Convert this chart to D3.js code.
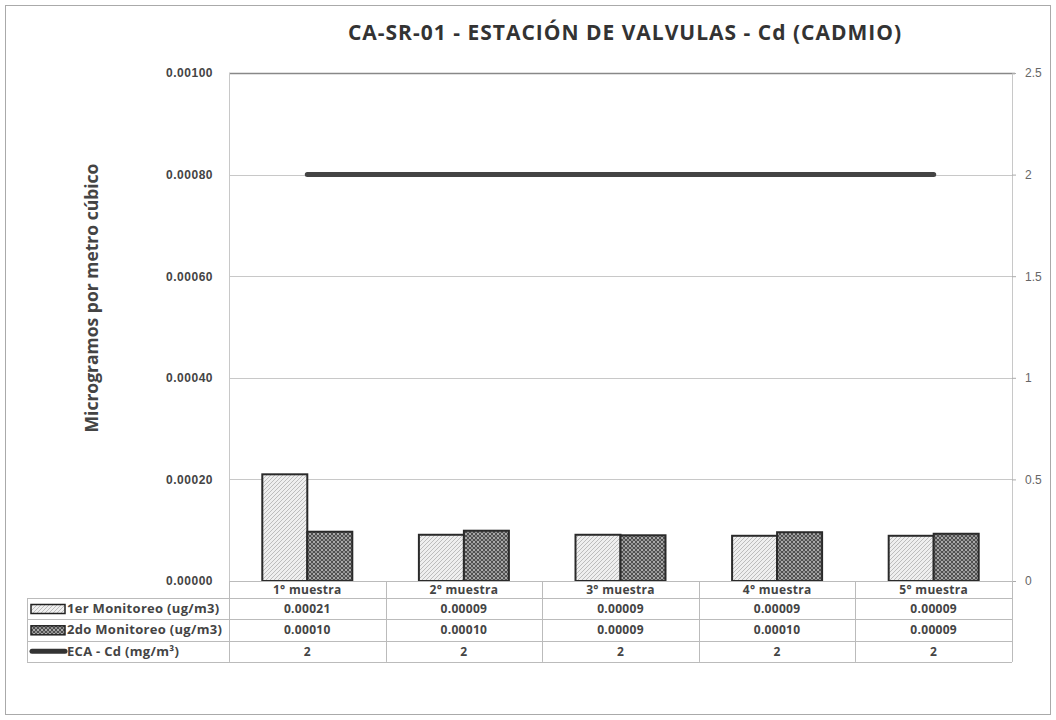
<!DOCTYPE html>
<html>
<head>
<meta charset="utf-8">
<script src="https://cdn.jsdelivr.net/npm/d3@7"></script>
<style>
  body { margin: 0; background: #fff; }
  svg { font-family: 'Open Sans', 'Lato', sans-serif; }
  .title { font-size: 21px; font-weight: 700; fill: #333; letter-spacing: 1px; }
  .ytitle { font-size: 17.5px; font-weight: 700; fill: #444; }
  .ltick text { font-size: 12px; font-weight: 700; fill: #444; letter-spacing: 0.5px; }
  .rtick text { font-size: 12px; fill: #666; }
  .cell { font-size: 12px; font-weight: 700; fill: #444; letter-spacing: 0.3px; }
  .legend-label { font-size: 13px; font-weight: 700; fill: #444; letter-spacing: 0.3px; }
</style>
</head>
<body>
<div id="chart"></div>
<script>
// data
const categories = ['1° muestra', '2° muestra', '3° muestra', '4° muestra', '5° muestra'];
const monitoreo1 = [0.00021, 0.000091, 0.000091, 0.000089, 0.000089];
const monitoreo2 = [0.000097, 0.000099, 0.000090, 0.000096, 0.000093];
const eca = [2, 2, 2, 2, 2];
const seriesNames = ['1er Monitoreo (ug/m3)', '2do Monitoreo (ug/m3)', 'ECA - Cd (mg/m³)'];
const leftTicks = [0, 0.0002, 0.0004, 0.0006, 0.0008, 0.001];
const rightTicks = [0, 0.5, 1, 1.5, 2, 2.5];

const W = 1056, H = 720;
const margin = { top: 73, left: 229, right: 44, bottom: 139 };
const width = W - margin.left - margin.right;
const height = H - margin.top - margin.bottom;

const svg = d3.select('#chart').append('svg')
  .attr('width', W)
  .attr('height', H);

// patterns
const defs = svg.append('defs');
const p1 = defs.append('pattern')
  .attr('id', 'hatch1')
  .attr('patternUnits', 'userSpaceOnUse')
  .attr('width', 4).attr('height', 4);
p1.append('rect').attr('width', 4).attr('height', 4).attr('fill', '#efefef');
p1.append('path').attr('d', 'M0,4 L4,0 M-1,1 L1,-1 M3,5 L5,3')
  .attr('stroke', '#b8b8b8').attr('stroke-width', 0.9);

const p2 = defs.append('pattern')
  .attr('id', 'hatch2')
  .attr('patternUnits', 'userSpaceOnUse')
  .attr('width', 4).attr('height', 4);
p2.append('rect').attr('width', 4).attr('height', 4).attr('fill', '#4f4f4f');
p2.append('circle').attr('cx', 1).attr('cy', 1).attr('r', 1).attr('fill', '#c8c8c8');
p2.append('circle').attr('cx', 3).attr('cy', 3).attr('r', 1).attr('fill', '#a8a8a8');

// outer frame
svg.append('rect')
  .attr('x', 5.5).attr('y', 5.5)
  .attr('width', W - 11).attr('height', H - 11)
  .attr('fill', 'none').attr('stroke', '#aaa');

const g = svg.append('g')
  .attr('transform', `translate(${margin.left},${margin.top})`);

const x = d3.scaleBand().domain(categories).range([0, width]);
const y = d3.scaleLinear().domain([0, 0.001]).range([height, 0]);
const y2 = d3.scaleLinear().domain([0, 2.5]).range([height, 0]);

// gridlines
g.append('g').selectAll('line')
  .data(leftTicks.slice(0, -1))
  .join('line')
  .attr('x1', 0).attr('x2', width)
  .attr('y1', d => Math.round(y(d)) + 0.5).attr('y2', d => Math.round(y(d)) + 0.5)
  .attr('stroke', '#c8c8c8');

g.append('line')
  .attr('x1', 0).attr('x2', width + 3)
  .attr('y1', 0.5).attr('y2', 0.5)
  .attr('stroke', '#888').attr('stroke-width', 1.5);

g.append('line')
  .attr('x1', 0.5).attr('x2', 0.5)
  .attr('y1', 0).attr('y2', height)
  .attr('stroke', '#c8c8c8');

// left axis
const la = g.append('g').attr('class', 'ltick')
  .call(d3.axisLeft(y).tickValues(leftTicks).tickFormat(d3.format('.5f')).tickSize(0).tickPadding(16));
la.select('.domain').remove();

// right axis
const ra = g.append('g').attr('class', 'rtick')
  .attr('transform', `translate(${width},0)`)
  .call(d3.axisRight(y2).tickValues(rightTicks).tickFormat(d => d).tickSize(4).tickPadding(9));
ra.select('.domain').attr('stroke', '#c8c8c8');
ra.selectAll('.tick line').attr('stroke', '#aaa');

// bars
const bw = 45;
const bars = g.append('g');
[monitoreo1, monitoreo2].forEach((vals, s) => {
  bars.selectAll(`rect.s${s}`)
    .data(vals)
    .join('rect')
    .attr('class', `s${s}`)
    .attr('x', (d, i) => x(categories[i]) + x.bandwidth() / 2 - bw + s * bw)
    .attr('y', d => y(d))
    .attr('width', bw)
    .attr('height', d => height - y(d))
    .attr('fill', `url(#hatch${s + 1})`)
    .attr('stroke', '#2a2a2a')
    .attr('stroke-width', 2);
});

// ECA line
const line = d3.line()
  .x((d, i) => x(categories[i]) + x.bandwidth() / 2)
  .y(d => y2(d));
g.append('path')
  .datum(eca)
  .attr('d', line)
  .attr('fill', 'none')
  .attr('stroke', '#444')
  .attr('stroke-width', 5)
  .attr('stroke-linecap', 'round');

// titles
svg.append('text')
  .attr('class', 'title')
  .attr('x', 625).attr('y', 40)
  .attr('text-anchor', 'middle')
  .text('CA-SR-01 - ESTACIÓN DE VALVULAS - Cd (CADMIO)');

svg.append('text')
  .attr('class', 'ytitle')
  .attr('transform', 'translate(98,298) rotate(-90)')
  .attr('text-anchor', 'middle')
  .text('Microgramos por metro cúbico');

// data table
const tableLeft = 27 - margin.left;
const rowH = 21.3;
const rowsTop = height + 17;
const t = g.append('g').attr('class', 'table');
const lc = '#bbb';

t.append('line').attr('x1', 0).attr('x2', width).attr('y1', height + 0.5).attr('y2', height + 0.5).attr('stroke', lc);
[0, 1, 2, 3].forEach(r => {
  t.append('line')
    .attr('x1', tableLeft).attr('x2', width)
    .attr('y1', Math.round(rowsTop + r * rowH) + 0.5).attr('y2', Math.round(rowsTop + r * rowH) + 0.5)
    .attr('stroke', lc);
});
t.append('line').attr('x1', tableLeft + 0.5).attr('x2', tableLeft + 0.5)
  .attr('y1', rowsTop).attr('y2', rowsTop + 3 * rowH).attr('stroke', lc);
categories.concat(['end']).forEach((c, i) => {
  const xx = i < categories.length ? x(c) : width;
  t.append('line')
    .attr('x1', Math.round(xx) + 0.5).attr('x2', Math.round(xx) + 0.5)
    .attr('y1', height).attr('y2', rowsTop + 3 * rowH)
    .attr('stroke', lc);
});

t.selectAll('text.head')
  .data(categories)
  .join('text')
  .attr('class', 'cell head')
  .attr('x', d => x(d) + x.bandwidth() / 2)
  .attr('y', height + 13)
  .attr('text-anchor', 'middle')
  .text(d => d);

const rows = [
  monitoreo1.map(d => d.toFixed(5)),
  monitoreo2.map(d => d.toFixed(5)),
  eca.map(d => String(d))
];
rows.forEach((vals, r) => {
  const cy = rowsTop + r * rowH + rowH / 2 + 4.5;
  t.selectAll(`text.r${r}`)
    .data(vals)
    .join('text')
    .attr('class', `cell r${r}`)
    .attr('x', (d, i) => x(categories[i]) + x.bandwidth() / 2)
    .attr('y', cy)
    .attr('text-anchor', 'middle')
    .text(d => d);

  // legend key
  if (r < 2) {
    t.append('rect')
      .attr('x', tableLeft + 4).attr('y', rowsTop + r * rowH + 6.5)
      .attr('width', 34).attr('height', 9)
      .attr('fill', `url(#hatch${r + 1})`)
      .attr('stroke', '#222').attr('stroke-width', 1.5);
  } else {
    t.append('line')
      .attr('x1', tableLeft + 5).attr('x2', tableLeft + 38)
      .attr('y1', rowsTop + r * rowH + rowH / 2).attr('y2', rowsTop + r * rowH + rowH / 2)
      .attr('stroke', '#333').attr('stroke-width', 5)
      .attr('stroke-linecap', 'round');
  }
  t.append('text')
    .attr('class', 'legend-label')
    .attr('x', tableLeft + 40)
    .attr('y', cy)
    .text(seriesNames[r]);
});
</script>
</body>
</html>
